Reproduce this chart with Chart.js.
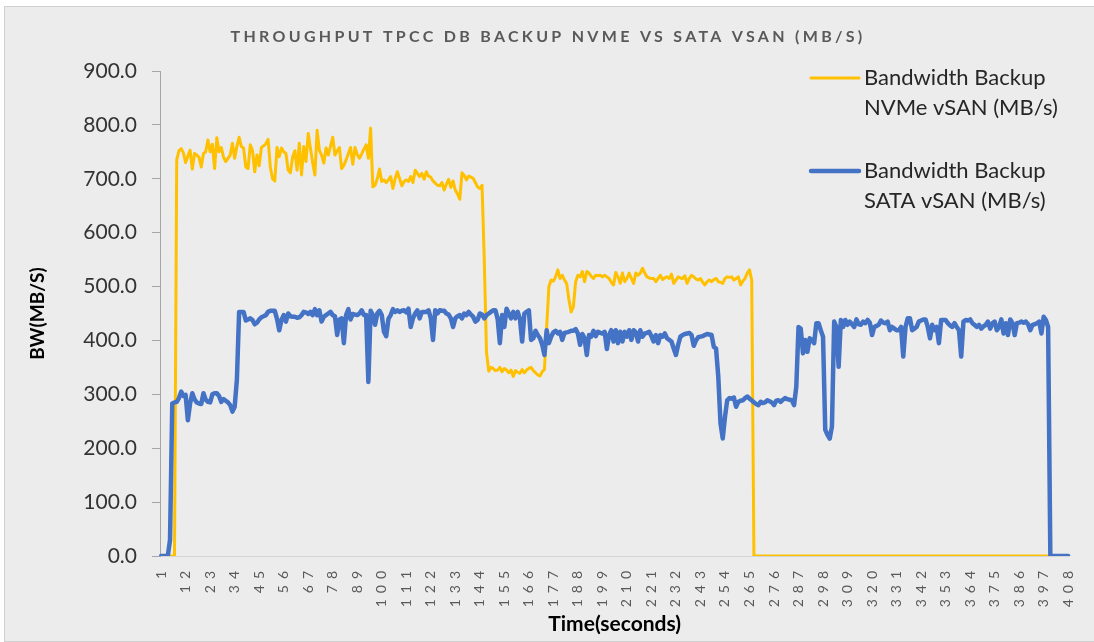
<!DOCTYPE html>
<html>
<head>
<meta charset="utf-8">
<script src="https://cdn.jsdelivr.net/npm/chart.js@4.4.1/dist/chart.umd.min.js"></script>
<style>
  html, body { margin: 0; padding: 0; background: #ffffff; }
  #wrap { width: 1094px; height: 642px; }
</style>
</head>
<body>
<div id="wrap"><canvas id="c" width="1094" height="642"></canvas></div>
<script>
// ---------- DATA ----------
const chartTitle = 'THROUGHPUT TPCC DB BACKUP NVME VS SATA VSAN (MB/S)';
const yAxisTitle = 'BW(MB/S)';
const xAxisTitle = 'Time(seconds)';
const nvmeName = ['Bandwidth Backup', 'NVMe vSAN (MB/s)'];
const sataName = ['Bandwidth Backup', 'SATA vSAN (MB/s)'];

const seconds = [
  1,2,3,4,5,6,7,8,9,10,11,12,13,14,15,16,17,18,19,20,21,22,23,24,25,26,27,28,29,30,
  31,32,33,34,35,36,37,38,39,40,41,42,43,44,45,46,47,48,49,50,51,52,53,54,55,56,57,58,59,60,
  61,62,63,64,65,66,67,68,69,70,71,72,73,74,75,76,77,78,79,80,81,82,83,84,85,86,87,88,89,90,
  91,92,93,94,95,96,97,98,99,100,101,102,103,104,105,106,107,108,109,110,111,112,113,114,115,116,117,118,119,120,
  121,122,123,124,125,126,127,128,129,130,131,132,133,134,135,136,137,138,139,140,141,142,143,144,145,146,147,148,149,150,
  151,152,153,154,155,156,157,158,159,160,161,162,163,164,165,166,167,168,169,170,171,172,173,174,175,176,177,178,179,180,
  181,182,183,184,185,186,187,188,189,190,191,192,193,194,195,196,197,198,199,200,201,202,203,204,205,206,207,208,209,210,
  211,212,213,214,215,216,217,218,219,220,221,222,223,224,225,226,227,228,229,230,231,232,233,234,235,236,237,238,239,240,
  241,242,243,244,245,246,247,248,249,250,251,252,253,254,255,256,257,258,259,260,261,262,263,264,265,266,267,268,269,270,
  271,272,273,274,275,276,277,278,279,280,281,282,283,284,285,286,287,288,289,290,291,292,293,294,295,296,297,298,299,300,
  301,302,303,304,305,306,307,308,309,310,311,312,313,314,315,316,317,318,319,320,321,322,323,324,325,326,327,328,329,330,
  331,332,333,334,335,336,337,338,339,340,341,342,343,344,345,346,347,348,349,350,351,352,353,354,355,356,357,358,359,360,
  361,362,363,364,365,366,367,368,369,370,371,372,373,374,375,376,377,378,379,380,381,382,383,384,385,386,387,388,389,390,
  391,392,393,394,395,396,397,398,399,400,401,402,403,404,405,406,407,408
];

const xTickLabels = ['1','12','23','34','45','56','67','78','89','100','111','122','133','144','155','166','177','188','199',
  '210','221','232','243','254','265','276','287','298','309','320','331','342','353','364','375','386','397','408'];

const yTicks = [0, 100, 200, 300, 400, 500, 600, 700, 800, 900];

const nvmeBandwidth = [
  0,0,0,0,0,0,0,735,752,756,
  748,730,742,753,718,747,744,740,722,747,
  750,772,750,764,719,776,750,758,740,732,
  738,744,766,738,760,777,760,757,722,719,
  763,753,713,744,724,758,761,765,773,722,
  700,696,758,741,757,750,747,716,711,740,
  752,716,766,707,760,732,784,757,730,707,
  790,753,744,729,757,744,760,777,744,752,
  758,719,725,735,747,758,727,758,745,738,
  746,755,763,738,794,685,688,700,718,695,
  698,693,698,704,682,700,713,700,687,695,
  698,695,704,693,716,710,704,710,699,713,
  705,703,696,692,688,687,693,679,690,699,
  684,696,679,672,662,711,706,698,705,703,
  701,693,685,682,688,550,378,343,350,348,
  344,345,350,342,348,345,340,345,333,344,
  341,339,346,340,345,348,350,344,340,336,
  334,342,346,425,500,512,510,518,531,515,
  521,512,505,475,453,463,509,521,518,528,
  509,528,525,519,515,521,520,521,518,521,
  518,515,508,503,526,518,506,525,509,515,
  525,515,506,525,521,525,534,525,518,516,
  515,515,509,515,521,513,516,518,515,523,
  506,512,518,516,515,520,506,515,521,518,
  514,512,515,508,503,509,512,509,513,515,
  509,508,506,515,518,517,518,512,515,518,
  503,510,515,525,531,512,0,0,0,0,
  0,0,0,0,0,0,0,0,0,0,
  0,0,0,0,0,0,0,0,0,0,
  0,0,0,0,0,0,0,0,0,0,
  0,0,0,0,0,0,0,0,0,0,
  0,0,0,0,0,0,0,0,0,0,
  0,0,0,0,0,0,0,0,0,0,
  0,0,0,0,0,0,0,0,0,0,
  0,0,0,0,0,0,0,0,0,0,
  0,0,0,0,0,0,0,0,0,0,
  0,0,0,0,0,0,0,0,0,0,
  0,0,0,0,0,0,0,0,0,0,
  0,0,0,0,0,0,0,0,0,0,
  0,0,0,0,0,0,0,0,0,0,
  0,0,0,0,0,0,0,0
];

const sataBandwidth = [
  0,0,0,0,30,283,285,286,293,305,
  297,299,252,283,302,291,285,283,282,302,
  290,286,285,300,302,302,297,286,291,288,
  285,280,268,277,327,453,453,453,437,439,
  441,438,430,433,439,443,445,447,453,455,
  455,455,440,419,438,447,435,450,445,444,
  444,442,443,447,453,452,449,453,447,458,
  447,456,435,444,447,450,453,447,445,410,
  439,441,395,447,458,439,449,448,447,450,
  456,447,447,323,455,447,429,450,455,447,
  416,408,440,447,458,453,456,453,455,456,
  452,459,425,441,450,456,441,453,453,453,
  456,441,401,456,450,456,455,455,450,448,
  441,425,441,445,447,441,450,447,453,448,
  444,435,438,450,448,441,447,450,453,456,
  456,440,395,447,425,459,450,441,453,441,
  453,440,398,450,453,456,401,404,418,410,
  404,392,373,419,395,407,415,418,413,416,
  401,414,415,416,418,418,421,413,392,412,
  404,373,410,407,418,408,416,414,413,416,
  384,410,419,398,419,395,416,398,416,407,
  419,401,419,415,398,419,407,413,414,416,
  408,398,410,395,410,407,413,404,401,398,
  385,373,392,407,410,412,413,414,410,390,
  400,406,407,408,410,412,411,410,388,385,
  333,246,218,258,289,293,292,294,277,286,
  288,289,293,296,292,289,285,282,280,286,
  284,285,289,287,285,280,288,289,286,290,
  293,291,290,289,280,314,425,422,376,401,
  379,404,401,395,432,432,419,407,234,225,
  218,240,435,425,351,438,425,438,429,435,
  430,425,439,430,429,435,432,438,433,410,
  425,427,429,437,433,432,435,419,425,422,
  419,419,425,370,425,441,441,419,422,425,
  435,437,439,439,425,404,429,419,425,395,
  438,438,438,432,428,425,432,425,419,370,
  435,438,437,439,432,429,425,429,422,426,
  429,435,422,432,435,419,425,439,413,432,
  410,439,432,410,432,433,435,433,435,430,
  419,429,430,432,435,413,444,438,425,0,
  0,0,0,0,0,0,0,0
];

// ---------- STYLE ----------
const COLOR_NVME = '#FFC000';
const COLOR_SATA = '#4472C4';
const FONT = 'Lato';

// Category scale whose tick labels get letter spacing (rotated time labels)
class SpacedCategoryScale extends Chart.CategoryScale {
  drawLabels(area) {
    const ctx = this.ctx;
    ctx.save();
    ctx.letterSpacing = '6px';
    super.drawLabels(area);
    ctx.restore();
  }
}
SpacedCategoryScale.id = 'spacedCategory';
SpacedCategoryScale.defaults = Chart.CategoryScale.defaults;
Chart.register(SpacedCategoryScale);

const decor = {
  id: 'decor',
  beforeDraw(chart) {
    const ctx = chart.ctx;
    ctx.save();
    ctx.fillStyle = '#ffffff';
    ctx.fillRect(0, 0, chart.width, chart.height);
    ctx.fillStyle = '#ececec';
    ctx.fillRect(4, 6, chart.width - 4, chart.height - 6);
    ctx.strokeStyle = '#d0d0d0';
    ctx.lineWidth = 1;
    ctx.strokeRect(4.5, 6.5, chart.width + 2, chart.height - 7);
    ctx.restore();
  },
  afterDraw(chart) {
    const ctx = chart.ctx;
    ctx.save();
    // Title with letter spacing
    ctx.font = 'bold 16px ' + FONT;
    ctx.fillStyle = '#595959';
    ctx.textBaseline = 'middle';
    ctx.textAlign = 'left';
    const targetW = 635;
    ctx.letterSpacing = '0px';
    const w0 = ctx.measureText(chartTitle).width;
    const sp = (targetW - w0) / chartTitle.length;
    ctx.letterSpacing = sp + 'px';
    ctx.fillText(chartTitle, 548 - targetW / 2, 37);
    ctx.letterSpacing = '0px';

    // Legend
    const items = [
      { color: COLOR_NVME, width: 3, lines: nvmeName, y: 78 },
      { color: COLOR_SATA, width: 4.5, lines: sataName, y: 171 }
    ];
    ctx.font = '22px ' + FONT;
    ctx.fillStyle = '#262626';
    items.forEach(it => {
      ctx.strokeStyle = it.color;
      ctx.lineWidth = it.width;
      ctx.lineCap = 'round';
      ctx.beginPath();
      ctx.moveTo(811, it.y);
      ctx.lineTo(859, it.y);
      ctx.stroke();
      it.lines.forEach((t, k) => ctx.fillText(t, 864, it.y + k * 30));
    });
    ctx.restore();
  }
};

new Chart(document.getElementById('c'), {
  type: 'line',
  data: {
    labels: seconds,
    datasets: [
      {
        label: nvmeName.join(' '),
        data: nvmeBandwidth,
        borderColor: COLOR_NVME,
        backgroundColor: COLOR_NVME,
        borderWidth: 3,
        borderJoinStyle: 'round',
        borderCapStyle: 'round',
        pointRadius: 0,
        tension: 0,
        order: 1
      },
      {
        label: sataName.join(' '),
        data: sataBandwidth,
        borderColor: COLOR_SATA,
        backgroundColor: COLOR_SATA,
        borderWidth: 4.5,
        borderJoinStyle: 'round',
        borderCapStyle: 'round',
        pointRadius: 0,
        tension: 0,
        order: 0
      }
    ]
  },
  options: {
    responsive: false,
    animation: false,
    layout: { padding: { top: 71, right: 15, left: 0, bottom: 0 } },
    plugins: {
      legend: { display: false },
      title: { display: false },
      tooltip: { enabled: false }
    },
    scales: {
      x: {
        type: 'spacedCategory',
        offset: true,
        grid: { display: true, drawOnChartArea: false, drawTicks: false },
        border: { display: true, color: '#d4d4d4', width: 1 },
        ticks: {
          autoSkip: false,
          maxRotation: 90,
          minRotation: 90,
          padding: 9,
          color: '#595959',
          font: { family: FONT, size: 14 },
          callback: function (val, idx) {
            const s = String(seconds[idx]);
            return xTickLabels.includes(s) ? s : null;
          }
        },
        title: {
          display: true,
          text: xAxisTitle,
          color: '#000000',
          font: { family: FONT, size: 21, weight: 'bold' },
          padding: { top: 0, bottom: 5 }
        },
        afterFit: s => { s.height = 86; }
      },
      y: {
        min: 0,
        max: 900,
        afterBuildTicks: s => { s.ticks = yTicks.map(v => ({ value: v })); },
        grid: { display: true, drawOnChartArea: false, drawTicks: true, tickLength: 8, color: '#a6a6a6' },
        border: { display: true, color: '#a6a6a6', width: 1 },
        ticks: {
          padding: 15,
          color: '#333333',
          font: { family: FONT, size: 21 },
          callback: v => Number(v).toFixed(1)
        },
        title: {
          display: true,
          text: yAxisTitle,
          color: '#000000',
          font: { family: FONT, size: 19, weight: 'bold' },
          padding: { top: 26, bottom: 0 }
        },
        afterFit: s => { s.width = 160; }
      }
    }
  },
  plugins: [decor]
});
</script>
</body>
</html>
